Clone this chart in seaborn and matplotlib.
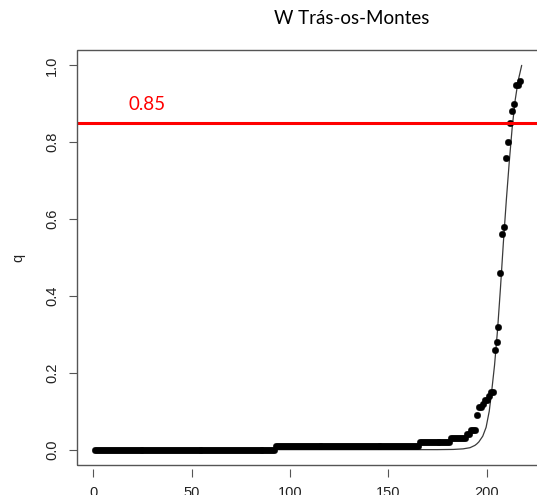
import numpy as np
import pandas as pd
import matplotlib
matplotlib.use("Agg")
import matplotlib.pyplot as plt
from matplotlib.patches import Rectangle
import seaborn as sns

# Sorted q values: long flat runs stored as (level, count), then the rising tail
run_levels = [0.00, 0.01, 0.02, 0.03]
run_counts = [92, 73, 16, 8]
tail_q = [0.04, 0.04, 0.05, 0.05, 0.05, 0.09, 0.11, 0.11, 0.12, 0.13,
          0.13, 0.14, 0.15, 0.15, 0.26, 0.28, 0.32, 0.46, 0.56, 0.58,
          0.76, 0.80, 0.85, 0.88, 0.90, 0.95, 0.95, 0.96]

# Fitted curve, sampled along its course
curve_x = [1, 60, 120, 160, 175, 183, 188, 191.5, 194, 195, 196, 198, 199.7,
           201.3, 202.5, 204, 205.5, 207, 208.5, 210, 211.5, 213, 214.5, 216, 217.8]
curve_q = [0.0, 0.0, 0.0, 0.0, 0.0, 0.0005, 0.002, 0.005, 0.011, 0.015, 0.02,
           0.035, 0.058, 0.10, 0.15, 0.22, 0.31, 0.42, 0.54, 0.65, 0.75,
           0.84, 0.91, 0.96, 1.0]

threshold = 0.85
threshold_label = "0.85"
title = "W Trás-os-Montes"
x_ticks = [0, 50, 100, 150, 200]
y_ticks = [0.0, 0.2, 0.4, 0.6, 0.8, 1.0]

q = np.concatenate([np.repeat(run_levels, run_counts), tail_q])
points = pd.DataFrame({"index": np.arange(1, len(q) + 1), "q": q})
curve = pd.DataFrame({"x": curve_x, "q": curve_q})

sns.set_theme(style="white")
plt.rcParams["font.family"] = ["Liberation Sans", "DejaVu Sans"]

W, H = 537, 495
fig = plt.figure(figsize=(W / 100, H / 100), dpi=100)
left, right, top, bottom = 77, 539, 50, 465
ax = fig.add_axes([left / W, (H - bottom) / H, (right - left) / W, (bottom - top) / H])

sns.lineplot(data=curve, x="x", y="q", ax=ax, color="#3a3a3a", lw=0.9,
             estimator=None, sort=False)
sns.scatterplot(data=points, x="index", y="q", ax=ax, color="black", s=22,
                edgecolor="black", linewidth=0.3, zorder=3)
ax.axhline(threshold, color="#ff0000", lw=2.2, zorder=4)

ax.set_xlim(-8.3, 226.6)
ax.set_ylim(-0.04, 1.04)
ax.set_xlabel("")
ax.set_ylabel("q", fontsize=10.5, color="#222222", labelpad=14)

# plot frame, with x ticks drawn slightly below it
for s in ax.spines.values():
    s.set_visible(False)
ax.add_patch(Rectangle((0, 0), 1, 1, transform=ax.transAxes, fill=False,
                       edgecolor="#555555", lw=1.0, clip_on=False, zorder=5))
ax.spines["bottom"].set_position(("outward", 3))
ax.spines["bottom"].set_visible(True)
ax.spines["bottom"].set_color("none")

ax.set_xticks(x_ticks)
ax.set_yticks(y_ticks)
ax.set_yticklabels([f"{v:.1f}" for v in y_ticks], rotation=90, va="center")
ax.tick_params(axis="both", which="both", direction="out", length=6, width=0.8,
               color="#555555", labelsize=10.5, labelcolor="#222222",
               bottom=True, left=True)
ax.tick_params(axis="x", pad=6)
ax.tick_params(axis="y", pad=7)
ax.grid(False)

fig.text(352 / W, 1 - 18 / H, title, ha="center", va="center",
         fontsize=13.5, family=["Lato", "DejaVu Sans"], color="black")
fig.text(147 / W, 1 - 105 / H, threshold_label, ha="center", va="center",
         fontsize=13.5, color="#ff0000", family=["Lato", "DejaVu Sans"])

fig.savefig("out.png", dpi=100)
